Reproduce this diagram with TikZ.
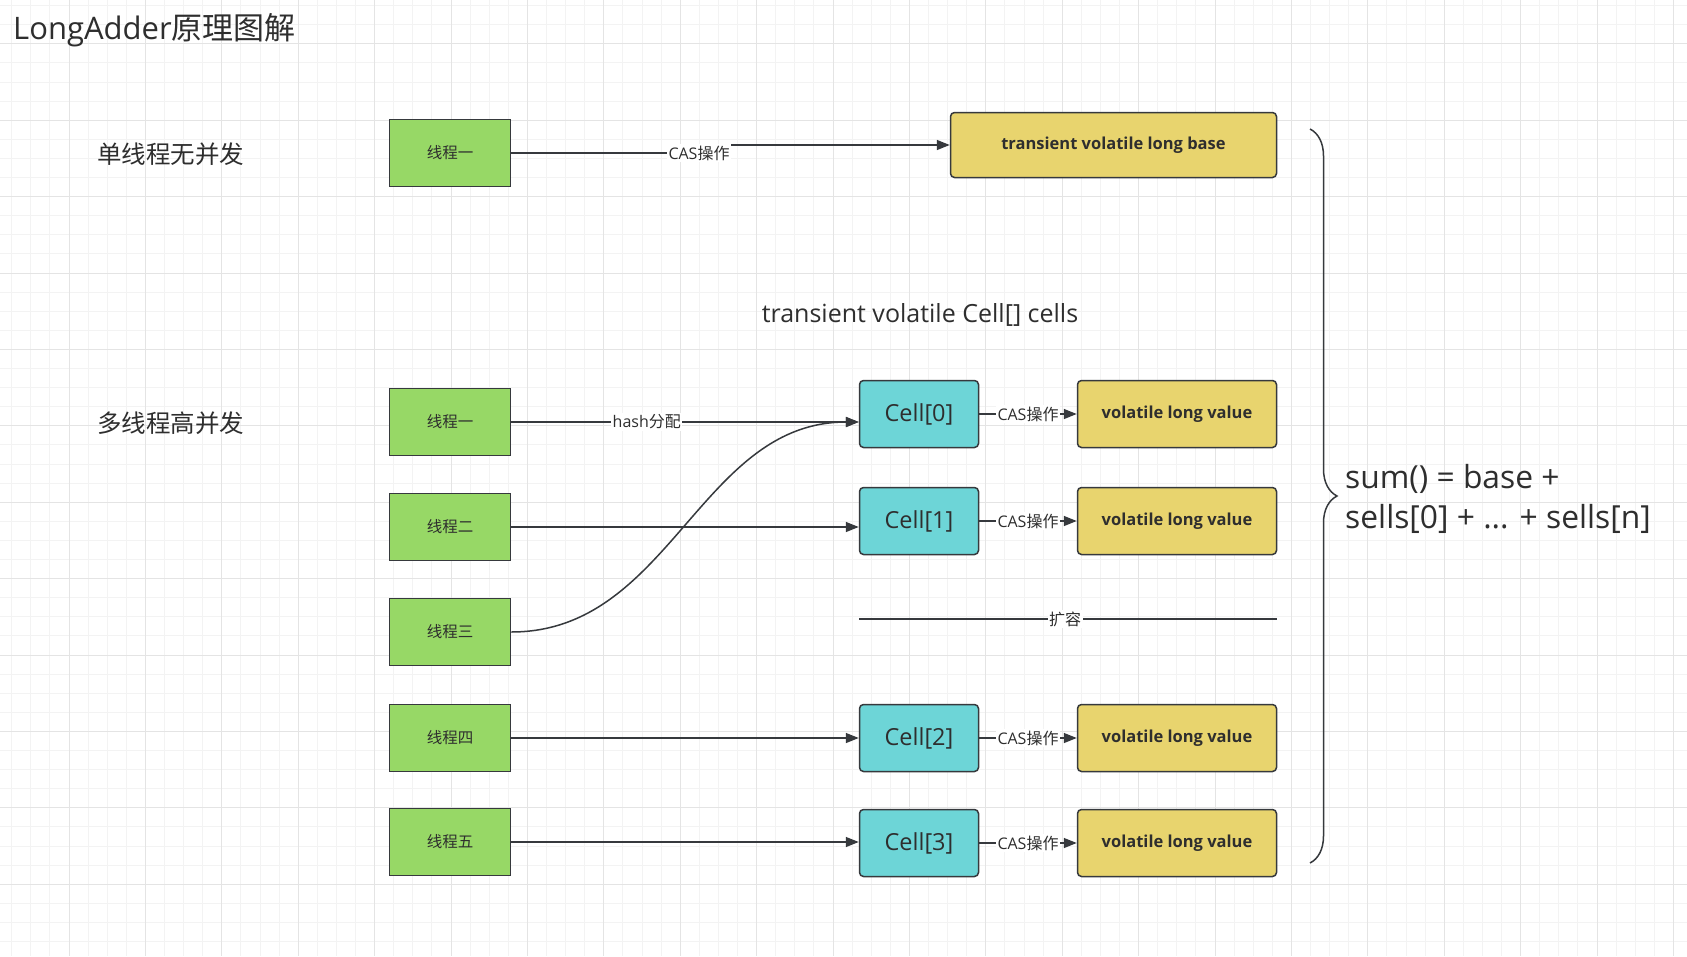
\documentclass[tikz,border=0pt]{standalone}
\usepackage{fontspec}
\setmainfont{Open Sans}
\newfontfamily\zhfont{Noto Sans CJK SC}
\usepackage{tikz}
\usetikzlibrary{arrows.meta,calc,decorations.pathreplacing,positioning}
\definecolor{ThreadGreen}{HTML}{97D866}
\definecolor{CellCyan}{HTML}{6DD5D7}
\definecolor{ValueYellow}{HTML}{E8D46E}
\definecolor{EdgeInk}{HTML}{36393D}
\definecolor{TextInk}{HTML}{2E2E2E}
\definecolor{GridMinor}{HTML}{F3F3F3}
\definecolor{GridMajor}{HTML}{E4E4E4}
\tikzset{
  thread/.style={draw=EdgeInk,line width=1.5pt,fill=ThreadGreen,minimum width=121pt,minimum height=67pt,inner sep=0pt,font=\zhfont\fontsize{15.5}{18}\selectfont},
  cellbox/.style={draw=EdgeInk,line width=1.5pt,fill=CellCyan,rounded corners=4pt,minimum width=119pt,minimum height=67pt,inner sep=0pt,font=\fontsize{23.5}{28}\selectfont},
  valuebox/.style={draw=EdgeInk,line width=1.5pt,fill=ValueYellow,rounded corners=4pt,minimum width=199pt,minimum height=67pt,inner sep=0pt,font=\bfseries\fontsize{16.5}{20}\selectfont},
  flow/.style={draw=EdgeInk,line width=1.5pt,-{Triangle[length=13pt,width=10pt]}},
  plainline/.style={draw=EdgeInk,line width=1.5pt},
  edgelabel/.style={fill=white,inner sep=1.5pt,font=\fontsize{16}{19}\selectfont},
  heading/.style={anchor=west,inner sep=0pt,font=\zhfont\fontsize{24.5}{29}\selectfont}
}

\begin{document}
\begin{tikzpicture}[x=1pt,y=-1pt,text=TextInk]
\useasboundingbox (0,0) rectangle (1687,956);
\fill[white] (0,0) rectangle (1687,956);
\foreach \k in {0,...,88}{\draw[GridMinor,line width=1pt] ({11.7+19.1*\k},0) -- ++(0,956);}
\foreach \k in {0,...,49}{\draw[GridMinor,line width=1pt] (0,{5.6+19.1*\k}) -- ++(1687,0);}
\foreach \k in {0,...,21}{\draw[GridMajor,line width=1pt] ({69+76.4*\k},0) -- ++(0,956);}
\foreach \k in {0,...,11}{\draw[GridMajor,line width=1pt] (0,{43.8+76.4*\k}) -- ++(1687,0);}

\node[anchor=west,inner sep=0pt,font=\fontsize{31}{37}\selectfont] (title) at (13,30) {LongAdder{\zhfont 原理图解}};
\node[heading] (single) at (97,154) {单线程无并发};
\node[heading] (multi) at (97,423) {多线程高并发};

\node[thread] (s1) at (450,153) {线程一};
\node[valuebox,minimum width=326pt,minimum height=65pt] (base) at (1113.5,145) {transient volatile long base};
\coordinate (jog) at (699,153);
\draw[flow] (s1.east) -| (jog) |- (base.west);
\node[edgelabel] (cas) at (jog) {CAS{\zhfont 操作}};

\node[font=\fontsize{25}{30}\selectfont] (cells) at (920,315) {transient volatile Cell[] cells};

\foreach \name/\txt/\y in {t1/线程一/422,t2/线程二/527,t3/线程三/632,t4/线程四/738,t5/线程五/842}{\node[thread] (\name) at (450,\y) {\txt};}
\foreach \i/\y in {0/414,1/521,2/738,3/843}{
  \node[cellbox] (c\i) at (919,\y) {Cell[\i]};
  \node[valuebox] (v\i) at (1177,\y) {volatile long value};
  \draw[flow] (c\i) -- (v\i) node[midway,edgelabel] {CAS{\zhfont 操作}};
}

\draw[flow] (t1.east) -- (t1.east -| c0.west) node[pos=.39,edgelabel] {hash{\zhfont 分配}};
\draw[flow] (t2.east) -- (t2.east -| c1.west);
\draw[flow] (t3.east) to[out=0,in=180] (t1.east -| c0.west);
\draw[flow] (t4.east) -- (t4.east -| c2.west);
\draw[flow] (t5.east) -- (t5.east -| c3.west);

\coordinate (grow0) at (859,619);
\coordinate (grow1) at (1277,619);
\draw[plainline] (grow0) -- (grow1) node[pos=.493,edgelabel] {\zhfont 扩容};

\coordinate (brtop) at (1310,129);
\coordinate (brbot) at (1310,863);
\draw[plainline,decorate,decoration={brace,amplitude=27pt}] (brtop) -- (brbot);
\node[anchor=west,align=left,inner sep=0pt,font=\fontsize{31.8}{40}\selectfont] (sum) at (1345,499) {sum() = base +\\sells[0] + ... + sells[n]};
\end{tikzpicture}
\end{document}
